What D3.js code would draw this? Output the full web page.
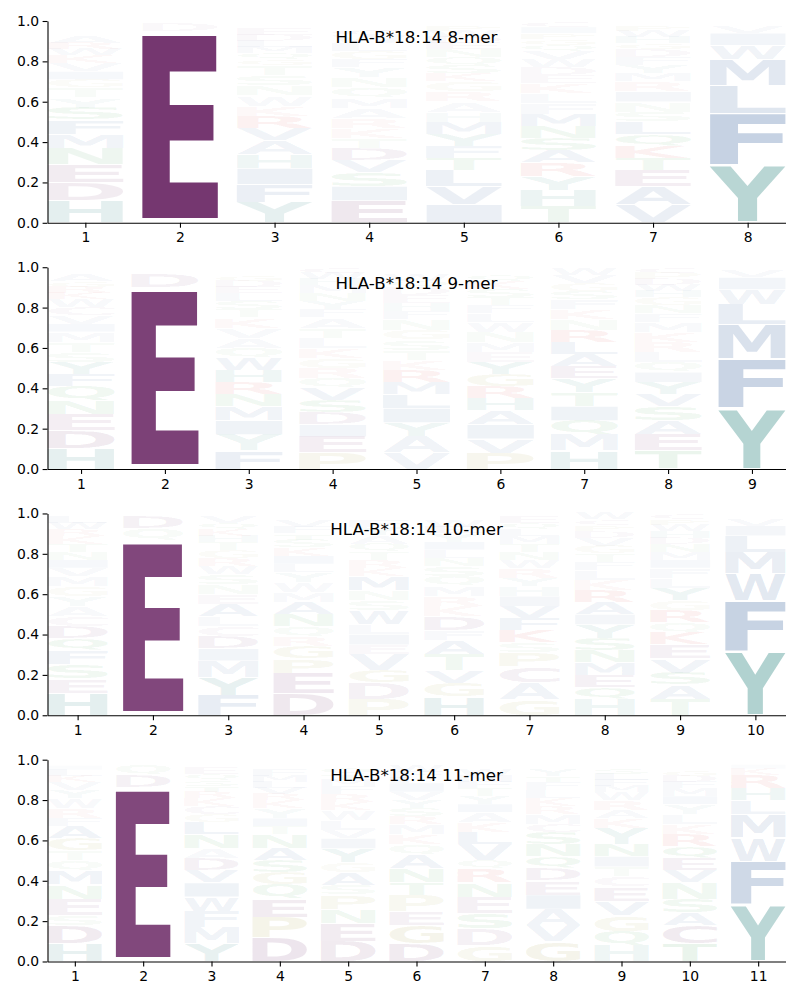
<!DOCTYPE html>
<html><head><meta charset="utf-8">
<script src="https://cdn.jsdelivr.net/npm/d3@7"></script>
<style>body{margin:0;background:#fff}svg{display:block}</style>
</head><body>
<script>
// ---- data: per position, letters from bottom to top with probability ----
const logo8 = [
 [["H",.11],["D",.09],["E",.09],["N",.08],["M",.07],["F",.07],["S",.06],["Y",.05],["T",.05],["G",.04],["I",.04],["V",.04],["K",.04],["W",.03],["R",.03],["A",.03],["L",.02],["P",.02],["Q",.02],["C",.02]],
 [["E",.95],["D",.04],["G",.01]],
 [["Y",.10],["F",.09],["I",.08],["H",.07],["A",.07],["V",.06],["R",.06],["K",.05],["W",.05],["N",.05],["S",.05],["T",.05],["G",.03],["Q",.03],["M",.03],["L",.03],["D",.03],["E",.03],["P",.02],["C",.02]],
 [["E",.11],["I",.07],["S",.07],["V",.06],["D",.06],["T",.05],["K",.05],["R",.05],["A",.05],["M",.05],["Q",.05],["N",.05],["Y",.05],["F",.04],["G",.04],["L",.04],["W",.04],["C",.03],["H",.02],["P",.02]],
 [["I",.09],["V",.09],["L",.08],["T",.06],["F",.06],["Y",.06],["M",.06],["H",.05],["A",.05],["R",.05],["G",.05],["K",.04],["S",.04],["Q",.04],["N",.04],["E",.03],["D",.03],["W",.03],["P",.03],["C",.02]],
 [["T",.08],["H",.08],["Y",.07],["R",.07],["A",.06],["S",.06],["N",.06],["M",.06],["F",.05],["L",.05],["K",.05],["E",.04],["D",.04],["W",.04],["V",.04],["Q",.03],["G",.03],["P",.03],["I",.03],["C",.03]],
 [["V",.09],["A",.09],["E",.08],["T",.06],["K",.06],["Q",.06],["L",.06],["S",.05],["N",.05],["I",.05],["R",.05],["M",.04],["Y",.04],["F",.04],["D",.04],["G",.03],["H",.03],["W",.03],["P",.03],["C",.02]],
 [["Y",.285],["F",.255],["L",.14],["M",.13],["W",.07],["I",.06],["V",.03],["A",.01],["K",.01],["T",.01]]
];
const logo9 = [
 [["H",.10],["D",.09],["E",.08],["N",.07],["Q",.07],["F",.06],["Y",.06],["S",.05],["T",.05],["M",.05],["I",.04],["V",.04],["C",.04],["W",.04],["K",.03],["R",.03],["G",.03],["A",.03],["L",.02],["P",.02]],
 [["E",.90],["D",.07],["Q",.02],["S",.01]],
 [["F",.09],["Y",.08],["I",.07],["M",.07],["N",.06],["R",.06],["H",.06],["W",.06],["Q",.05],["A",.05],["V",.05],["K",.05],["T",.04],["S",.04],["L",.04],["E",.03],["D",.03],["G",.03],["P",.02],["C",.02]],
 [["P",.08],["E",.08],["I",.06],["D",.06],["S",.06],["V",.06],["Q",.05],["R",.05],["G",.05],["K",.05],["L",.05],["T",.05],["A",.05],["F",.04],["Y",.04],["N",.04],["M",.04],["H",.03],["W",.03],["C",.03]],
 [["V",.08],["A",.08],["Y",.07],["I",.07],["L",.07],["M",.06],["R",.06],["K",.05],["T",.05],["S",.05],["G",.05],["N",.05],["F",.04],["H",.04],["E",.04],["D",.04],["Q",.03],["W",.03],["P",.02],["C",.02]],
 [["P",.08],["V",.07],["I",.07],["A",.07],["H",.06],["R",.06],["G",.06],["Y",.06],["E",.05],["M",.05],["N",.05],["W",.05],["L",.04],["F",.04],["T",.04],["S",.04],["K",.04],["Q",.03],["D",.02],["C",.02]],
 [["H",.09],["M",.08],["Q",.07],["I",.07],["T",.07],["Y",.07],["E",.06],["A",.06],["L",.06],["R",.06],["N",.05],["K",.05],["F",.05],["S",.04],["G",.04],["V",.04],["W",.03],["D",.02],["P",.02],["C",.02]],
 [["T",.09],["E",.08],["A",.07],["S",.07],["V",.06],["Y",.06],["I",.05],["Q",.05],["L",.05],["R",.05],["K",.05],["M",.05],["F",.04],["N",.04],["G",.04],["H",.03],["W",.03],["D",.03],["P",.03],["C",.03]],
 [["Y",.30],["F",.245],["M",.17],["L",.10],["W",.075],["I",.06],["V",.03],["A",.01],["K",.01]]
];
const logo10 = [
 [["H",.11],["E",.07],["S",.07],["F",.07],["Q",.06],["D",.06],["C",.05],["A",.05],["Y",.05],["G",.05],["M",.05],["V",.04],["I",.04],["N",.04],["T",.04],["K",.04],["R",.03],["W",.03],["L",.03],["P",.02]],
 [["E",.87],["Q",.055],["D",.06],["K",.01],["S",.005]],
 [["F",.10],["Y",.09],["M",.08],["I",.06],["D",.06],["C",.05],["L",.05],["A",.06],["E",.05],["N",.05],["S",.05],["W",.04],["R",.04],["G",.04],["T",.04],["H",.03],["K",.03],["Q",.03],["V",.03],["P",.02]],
 [["D",.11],["E",.10],["P",.07],["G",.06],["R",.05],["Q",.05],["N",.06],["A",.06],["M",.05],["W",.05],["Y",.05],["L",.04],["I",.04],["K",.04],["S",.04],["T",.03],["F",.03],["V",.03],["H",.02],["C",.02]],
 [["P",.08],["D",.08],["G",.06],["V",.08],["E",.05],["I",.05],["L",.05],["W",.07],["S",.05],["N",.05],["M",.07],["K",.04],["R",.04],["T",.04],["Q",.04],["A",.04],["Y",.04],["F",.03],["H",.02],["C",.02]],
 [["H",.09],["G",.07],["V",.06],["T",.08],["A",.07],["F",.05],["D",.07],["K",.05],["R",.05],["M",.05],["Q",.05],["S",.05],["N",.04],["L",.04],["I",.04],["Y",.04],["E",.03],["W",.03],["P",.02],["C",.02]],
 [["G",.08],["A",.08],["C",.08],["P",.07],["S",.05],["K",.06],["F",.06],["V",.06],["I",.05],["H",.05],["Y",.04],["R",.05],["W",.04],["N",.04],["T",.04],["M",.04],["L",.03],["Q",.03],["E",.03],["D",.02]],
 [["H",.08],["Q",.06],["E",.06],["M",.06],["N",.06],["S",.06],["Y",.07],["I",.05],["A",.06],["R",.06],["K",.05],["L",.05],["F",.04],["T",.04],["G",.04],["V",.04],["D",.03],["P",.03],["C",.03],["W",.03]],
 [["T",.08],["A",.07],["S",.06],["V",.07],["E",.07],["K",.06],["Q",.05],["R",.06],["G",.05],["Y",.06],["L",.05],["F",.05],["I",.04],["M",.04],["N",.04],["D",.03],["H",.03],["W",.03],["P",.03],["C",.03]],
 [["Y",.317],["F",.25],["W",.135],["M",.105],["L",.082],["I",.05],["V",.03],["T",.02],["A",.01]]
];
const logo11 = [
 [["H",.09],["D",.09],["S",.05],["E",.08],["N",.07],["M",.07],["Q",.05],["T",.05],["G",.06],["A",.06],["F",.04],["R",.05],["W",.05],["Y",.04],["V",.04],["K",.03],["L",.03],["I",.02],["P",.02],["C",.01]],
 [["E",.865],["D",.06],["Q",.05],["S",.01],["T",.01]],
 [["Y",.09],["M",.08],["F",.08],["W",.07],["I",.07],["V",.06],["D",.06],["A",.05],["N",.07],["L",.06],["G",.04],["C",.04],["K",.04],["R",.03],["T",.03],["S",.03],["Q",.03],["E",.03],["H",.02],["P",.02]],
 [["D",.12],["P",.10],["E",.09],["Q",.07],["G",.06],["S",.06],["A",.06],["N",.07],["T",.04],["I",.04],["Y",.05],["K",.04],["R",.03],["V",.03],["L",.03],["M",.03],["F",.03],["W",.02],["H",.02],["C",.01]],
 [["D",.10],["E",.09],["N",.07],["P",.07],["S",.05],["A",.06],["G",.05],["Y",.07],["I",.05],["V",.04],["L",.05],["W",.05],["K",.04],["R",.04],["F",.04],["M",.03],["T",.03],["Q",.03],["H",.02],["C",.02]],
 [["D",.09],["G",.09],["E",.07],["P",.08],["T",.06],["N",.07],["A",.07],["Q",.05],["K",.05],["M",.05],["R",.04],["S",.04],["Y",.04],["V",.04],["I",.04],["L",.03],["F",.03],["W",.03],["H",.02],["C",.01]],
 [["G",.08],["D",.08],["S",.08],["E",.08],["N",.07],["R",.07],["Q",.04],["V",.08],["L",.06],["K",.05],["A",.05],["I",.04],["Y",.04],["T",.04],["F",.03],["M",.03],["W",.03],["H",.02],["P",.02],["C",.01]],
 [["G",.10],["V",.08],["A",.08],["I",.07],["E",.07],["D",.06],["Q",.06],["N",.06],["S",.06],["C",.04],["M",.05],["R",.04],["K",.04],["L",.04],["F",.04],["T",.03],["Y",.03],["W",.02],["H",.01],["P",.02]],
 [["H",.08],["Q",.07],["G",.08],["V",.07],["E",.07],["C",.05],["T",.05],["I",.05],["N",.06],["Y",.08],["K",.05],["A",.04],["R",.05],["W",.04],["M",.03],["F",.03],["L",.03],["S",.03],["D",.02],["P",.01]],
 [["T",.09],["C",.09],["A",.06],["S",.07],["N",.08],["V",.06],["E",.06],["Q",.06],["R",.06],["K",.05],["L",.05],["Y",.05],["I",.04],["M",.04],["F",.03],["D",.03],["G",.03],["W",.02],["H",.02],["P",.01]],
 [["Y",.28],["F",.215],["W",.117],["M",.118],["L",.07],["H",.06],["R",.065],["K",.03],["I",.02],["V",.015],["A",.01]]
];
const titles = ["HLA-B*18:14 8-mer","HLA-B*18:14 9-mer","HLA-B*18:14 10-mer","HLA-B*18:14 11-mer"];
const yTicks = [0,0.2,0.4,0.6,0.8,1.0];

// ---- style ----
const groupColor = {purple:"#6e2c68", blue:"#1f5091", teal:"#0a706a", green:"#22923a", red:"#d0282a", olive:"#9a8f2c"};
const letterGroup = {D:"purple",E:"purple",C:"purple",A:"blue",V:"blue",L:"blue",I:"blue",M:"blue",F:"blue",W:"blue",
  H:"teal",Y:"teal",N:"green",Q:"green",S:"green",T:"green",K:"red",R:"red",G:"olive",P:"olive"};

const W = 800, H = 1000, L = 47.5, R = 785.5, TOP0 = 21, GAP = 246.23, PH = 201.8;
const FS = 200, FONT = '"DejaVu Sans", "Liberation Sans", sans-serif';
const ctx = document.createElement("canvas").getContext("2d");
ctx.font = `bold ${FS}px ${FONT}`;
const metricCache = {};
function metrics(ch){
  if(!metricCache[ch]){
    const m = ctx.measureText(ch);
    metricCache[ch] = {l:m.actualBoundingBoxLeft, r:m.actualBoundingBoxRight, a:m.actualBoundingBoxAscent, d:m.actualBoundingBoxDescent};
  }
  return metricCache[ch];
}

const svg = d3.select("body").append("svg").attr("width",W).attr("height",H)
  .style("font-family", FONT);
svg.append("rect").attr("width",W).attr("height",H).attr("fill","#fff");

[logo8, logo9, logo10, logo11].forEach((data, i) => {
  const n = data.length;
  const top = TOP0 + GAP*i;
  const x = d3.scaleLinear().domain([0.6, n + 0.4]).range([L, R]);
  const y = d3.scaleLinear().domain([0, 1]).range([top + PH, top]);
  const g = svg.append("g");

  data.forEach((col, j) => {
    const pos = j + 1;
    let floor = 0;
    col.forEach(([ch, v]) => {
      const ceil = floor + v;
      const pad = v * 0.025;
      const x0 = x(pos - 0.4), x1 = x(pos + 0.4);
      const yt = y(ceil - pad), yb = y(floor + pad);
      const m = metrics(ch);
      const sx = (x1 - x0) / (m.l + m.r), sy = (yb - yt) / (m.a + m.d);
      g.append("text")
        .attr("transform", `translate(${x0},${yt}) scale(${sx},${sy}) translate(${m.l},${m.a})`)
        .attr("font-size", FS).attr("font-weight", "bold")
        .attr("fill", groupColor[letterGroup[ch]])
        .attr("fill-opacity", Math.min(1, v))
        .text(ch);
      floor = ceil;
    });
  });

  const ya = svg.append("g").attr("transform", `translate(${L},0)`)
    .call(d3.axisLeft(y).tickValues(yTicks).tickFormat(d3.format(".1f")).tickSize(4.9).tickSizeOuter(0).tickPadding(3.4));
  const xa = svg.append("g").attr("transform", `translate(0,${top + PH})`)
    .call(d3.axisBottom(x).tickValues(d3.range(1, n + 1)).tickFormat(d3.format("d")).tickSize(4.9).tickSizeOuter(0).tickPadding(4.9));
  [ya, xa].forEach(a => {
    a.selectAll("text").attr("font-size", 13.9).attr("fill", "#000").style("font-family", FONT);
    a.selectAll("line").attr("stroke", "#000").attr("stroke-width", 1.1);
    a.select(".domain").attr("stroke", "#000").attr("stroke-width", 1.1);
  });

  svg.append("text").attr("x", (L + R)/2).attr("y", top + 21.5)
    .attr("text-anchor", "middle").attr("font-size", 16.7).attr("fill", "#000")
    .text(titles[i]);
});
</script>
</body></html>
